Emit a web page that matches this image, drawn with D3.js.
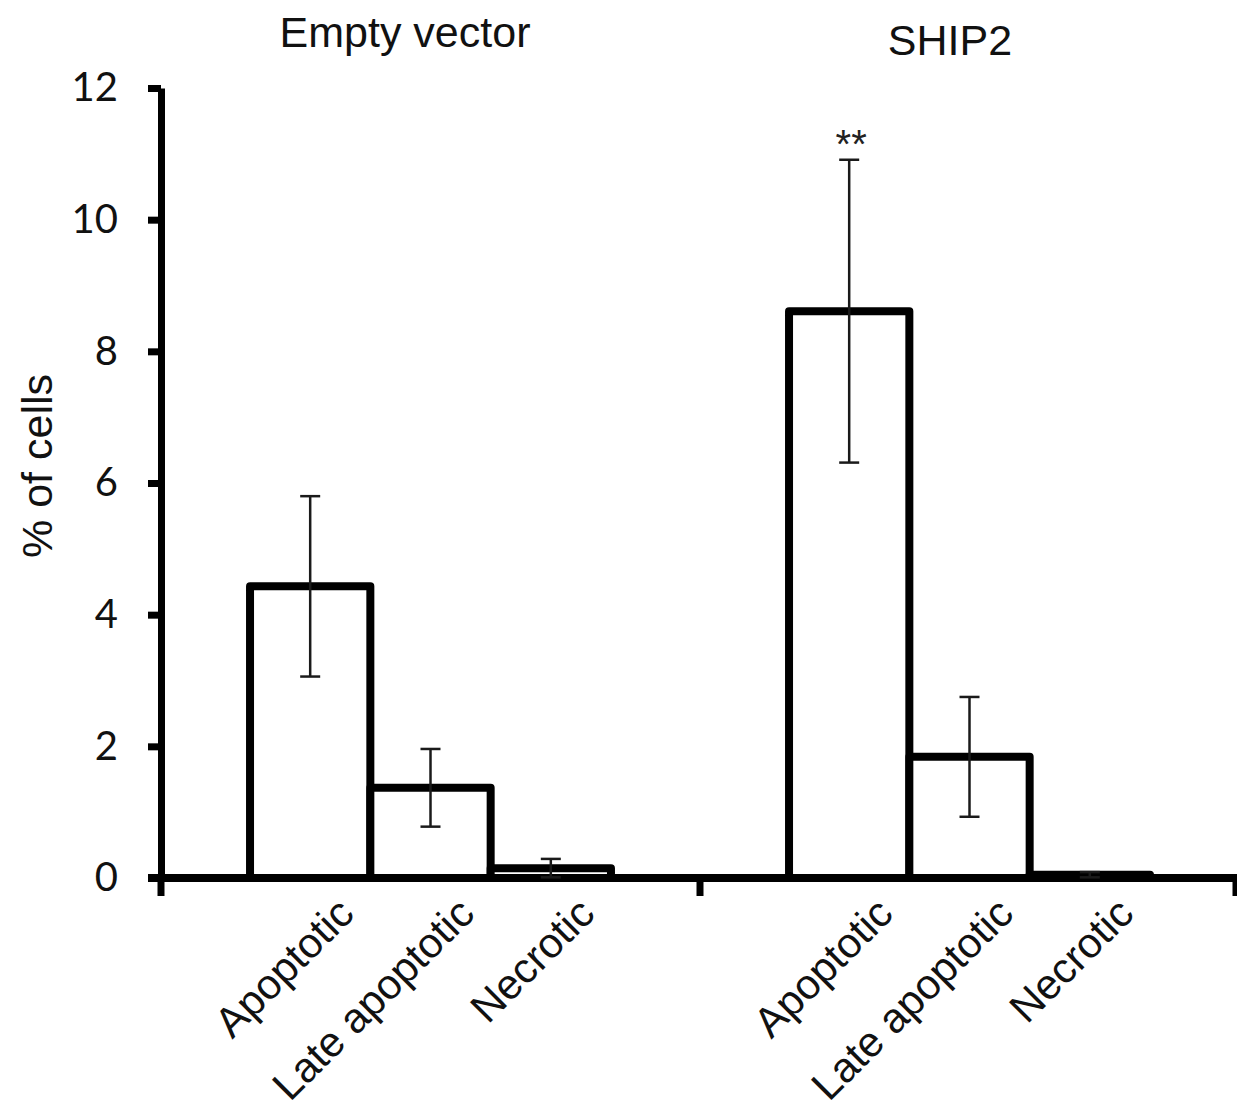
<!DOCTYPE html>
<html>
<head>
<meta charset="utf-8">
<script src="https://cdn.jsdelivr.net/npm/d3@7"></script>
<style>
  body { margin: 0; background: #fff; }
  svg { display: block; }
</style>
</head>
<body>
<div id="chart"></div>
<script>
// data
const groups = ["Empty vector", "SHIP2"];
const categories = ["Apoptotic", "Late apoptotic", "Necrotic"];
const meanEmpty = [4.43, 1.37, 0.15];
const errEmpty = [1.37, 0.59, 0.14];
const meanShip2 = [8.61, 1.84, 0.05];
const errShip2 = [2.3, 0.91, 0.04];
const yTicks = [0, 2, 4, 6, 8, 10, 12];
const marks = [{ group: "SHIP2", category: "Apoptotic", text: "**" }];

const W = 1237, H = 1114;
const MARGIN = { top: 88, left: 161, right: 1239, bottom: 878 };

const rows = [];
categories.forEach((c, i) => {
  rows.push({ group: groups[0], category: c, value: meanEmpty[i], err: errEmpty[i] });
  rows.push({ group: groups[1], category: c, value: meanShip2[i], err: errShip2[i] });
});

const svg = d3.select("#chart").append("svg")
  .attr("width", W)
  .attr("height", H);

// scales
const x0 = d3.scaleBand().domain(groups).range([MARGIN.left, MARGIN.right]).padding(0);
const x1 = d3.scaleBand().domain(categories).range([0, x0.bandwidth()])
  .paddingInner(0).paddingOuter(0.74);
const y = d3.scaleLinear().domain([0, 12]).range([MARGIN.bottom, MARGIN.top]);

// bars (outline only)
svg.append("g")
  .selectAll("rect")
  .data(rows)
  .join("rect")
  .attr("x", d => x0(d.group) + x1(d.category))
  .attr("y", d => y(d.value))
  .attr("width", x1.bandwidth())
  .attr("height", d => y(0) - y(d.value))
  .attr("fill", "#fff")
  .attr("stroke", "#000")
  .attr("stroke-width", 8)
  .attr("stroke-linejoin", "round");

// y axis
const yAxis = svg.append("g")
  .attr("transform", `translate(${MARGIN.left},0)`)
  .call(d3.axisLeft(y).tickValues(yTicks).tickSize(13).tickSizeOuter(0).tickPadding(30));
yAxis.select(".domain").attr("stroke", "#000").attr("stroke-width", 7);
yAxis.selectAll(".tick line").attr("stroke", "#000").attr("stroke-width", 7);
yAxis.selectAll(".tick text")
  .attr("font-family", "Lato, 'Open Sans', sans-serif")
  .attr("font-size", 40)
  .attr("fill", "#111");

// x axis line + group boundary ticks
const xAxis = svg.append("g")
  .attr("transform", `translate(0,${y(0)})`)
  .call(d3.axisBottom(x0).tickSize(0).tickSizeOuter(0).tickFormat(""));
xAxis.select(".domain").attr("stroke", "#000").attr("stroke-width", 8);
xAxis.selectAll(".tick").remove();
xAxis.select(".domain").attr("d", `M${MARGIN.left - 13},0H${W}`);

const bounds = groups.map(g => x0(g)).concat([x0(groups[1]) + x0.bandwidth() - 3]);
xAxis.selectAll("line.gtick")
  .data(bounds)
  .join("line")
  .attr("class", "gtick")
  .attr("x1", d => d).attr("x2", d => d)
  .attr("y1", 0).attr("y2", 18)
  .attr("stroke", "#000")
  .attr("stroke-width", 7);

// error bars
const eb = svg.append("g").attr("stroke", "#1a1a1a").attr("stroke-width", 2.5);
rows.forEach(d => {
  const cx = x0(d.group) + x1(d.category) + x1.bandwidth() / 2;
  const lo = Math.max(0, d.value - d.err), hi = d.value + d.err;
  eb.append("line").attr("x1", cx).attr("x2", cx).attr("y1", y(hi)).attr("y2", y(lo));
  eb.append("line").attr("x1", cx - 10).attr("x2", cx + 10).attr("y1", y(hi)).attr("y2", y(hi));
  eb.append("line").attr("x1", cx - 10).attr("x2", cx + 10).attr("y1", y(lo)).attr("y2", y(lo));
});

// significance marks
marks.forEach(m => {
  const r = rows.find(d => d.group === m.group && d.category === m.category);
  svg.append("text")
    .attr("x", x0(r.group) + x1(r.category) + x1.bandwidth() / 2 + 2)
    .attr("y", y(r.value + r.err) - 2)
    .attr("text-anchor", "middle")
    .attr("font-family", "'Liberation Sans', Arial, sans-serif")
    .attr("font-size", 40)
    .attr("fill", "#222")
    .text(m.text);
});

// category labels (rotated)
svg.append("g")
  .selectAll("text")
  .data(rows)
  .join("text")
  .attr("transform", d => {
    const cx = x0(d.group) + x1(d.category) + x1.bandwidth() / 2;
    return `translate(${cx + 46},${y(0) + 38}) rotate(-45)`;
  })
  .attr("text-anchor", "end")
  .attr("font-family", "'Liberation Sans', Arial, sans-serif")
  .attr("font-size", 42)
  .attr("fill", "#111")
  .text(d => d.category);

// group titles
const titleY = { "Empty vector": 47, "SHIP2": 55 };
svg.append("g")
  .selectAll("text")
  .data(groups)
  .join("text")
  .attr("x", (g, i) => i === 0 ? 405 : 950)
  .attr("y", g => titleY[g])
  .attr("text-anchor", "middle")
  .attr("font-family", "'Liberation Sans', Arial, sans-serif")
  .attr("font-size", 43)
  .attr("fill", "#111")
  .text(g => g);

// y axis title
svg.append("text")
  .attr("transform", `translate(52,466) rotate(-90)`)
  .attr("text-anchor", "middle")
  .attr("font-family", "'Liberation Sans', Arial, sans-serif")
  .attr("font-size", 43)
  .attr("fill", "#111")
  .text("% of cells");
</script>
</body>
</html>
